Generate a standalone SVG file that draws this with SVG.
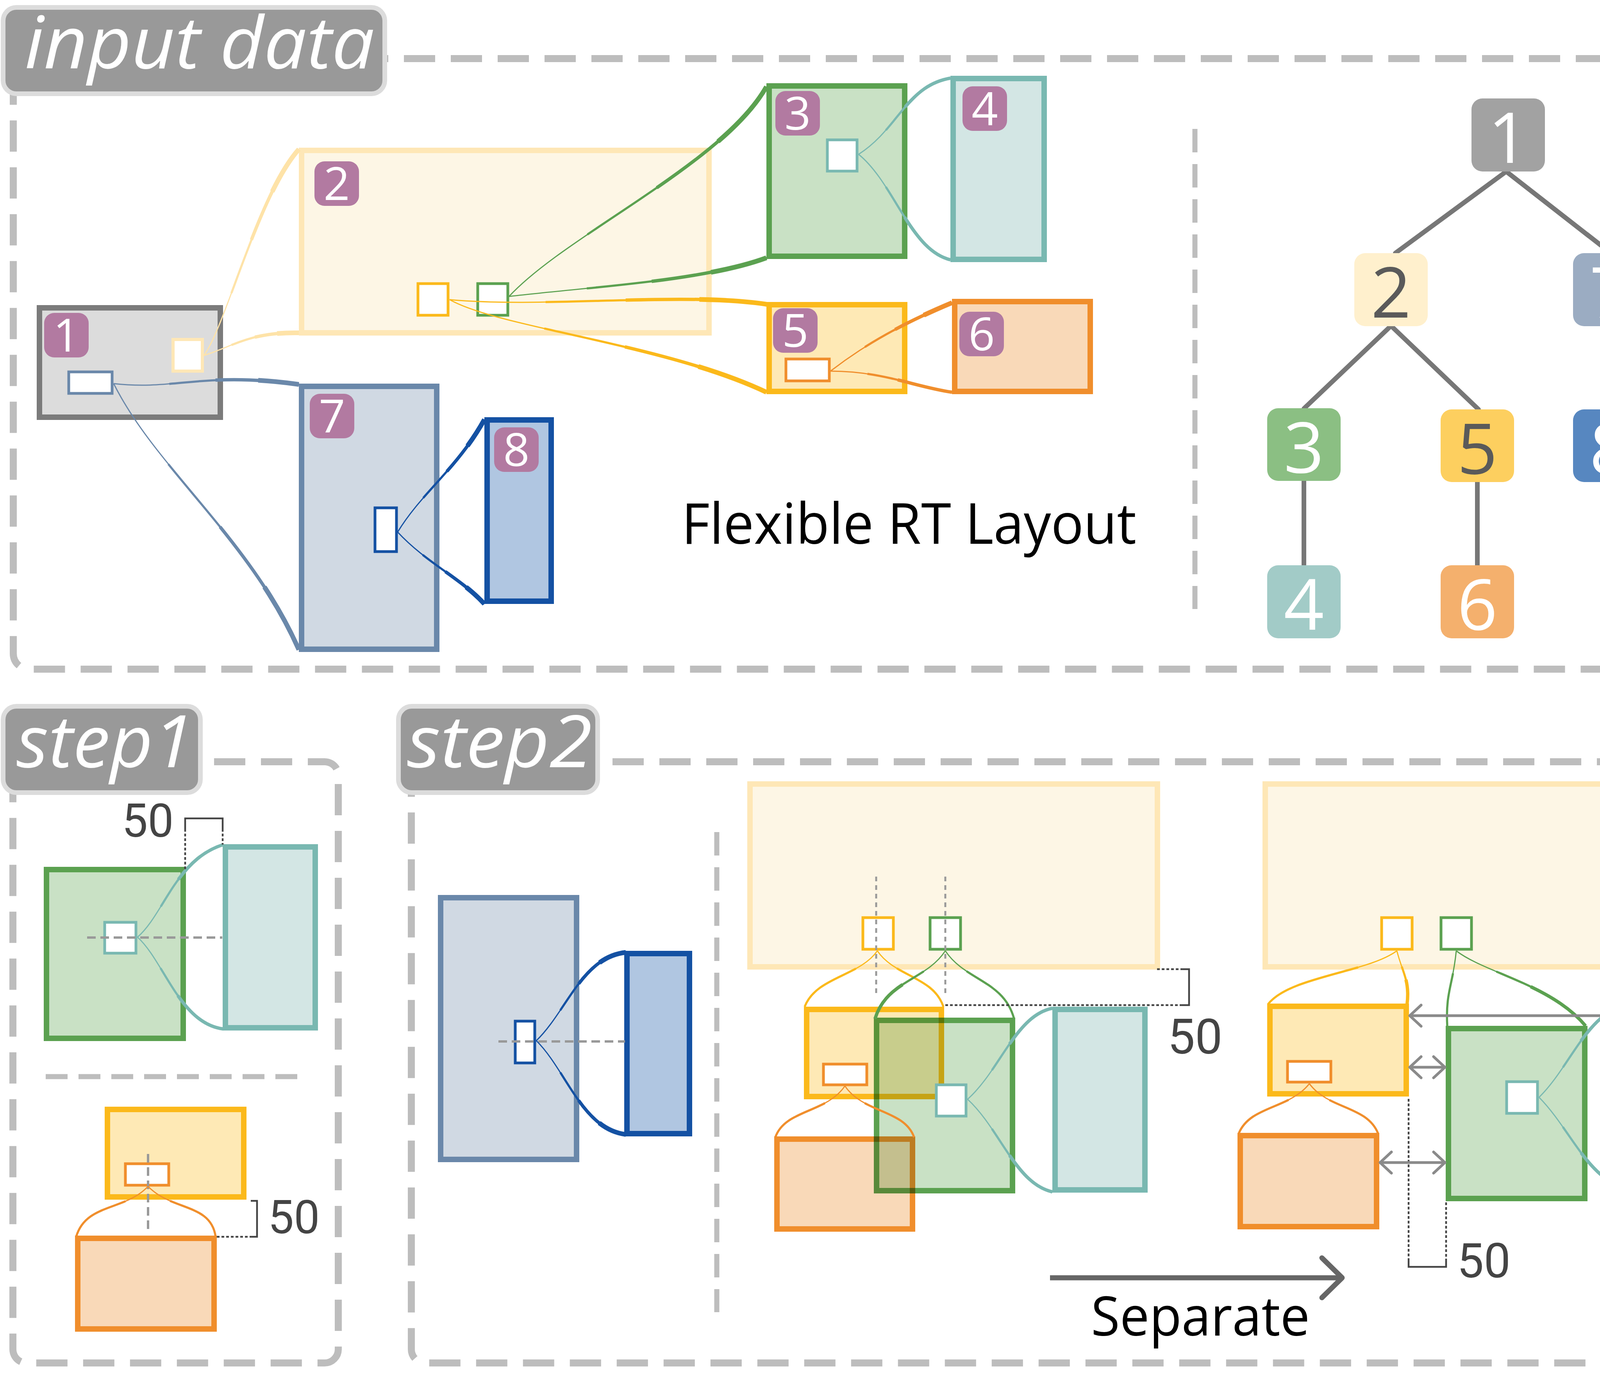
<svg xmlns="http://www.w3.org/2000/svg" xmlns:xlink="http://www.w3.org/1999/xlink" width="4532" height="3548" viewBox="0 0 4532 3548">
<style>
.frame{fill:none;stroke:#bdbdbd;stroke-width:18;stroke-dasharray:80 40}
.sep{fill:none;stroke:#bdbdbd;stroke-width:13;stroke-dasharray:60 30}
.lbl rect{fill:#999;stroke:#dcdcdc;stroke-width:12}
.lbl text{font-family:"Open Sans","DejaVu Sans",sans-serif;font-style:italic;font-size:185px;fill:#fff}
.box{stroke-width:14}
.gray{fill:#dcdcdc;stroke:#7b7b7b}
.ly{fill:#fdf6e5;stroke:#fee7b6}
.bg{fill:#d0d9e3;stroke:#6a88aa}
.db{fill:#b0c6e1;stroke:#1451a3}
.gr{fill:#c9e1c5;stroke:#5ba150}
.tl{fill:#d3e6e4;stroke:#79b8b1}
.yl{fill:#fee9b5;stroke:#fbb91b}
.or{fill:#f9d9b8;stroke:#f08e2c}
rect.port{fill:#fff;stroke-width:7}
.mul{mix-blend-mode:multiply}
.badge rect{fill:#b27aa1}
.badge text{font-family:"Open Sans","DejaVu Sans",sans-serif;font-size:118px;fill:#fff;text-anchor:middle}
.tree rect{stroke:none}
.tree text{font-family:"Open Sans","DejaVu Sans",sans-serif;font-size:180px;text-anchor:middle;fill:#fff}
.tedge{stroke:#777;stroke-width:12;stroke-linecap:round;fill:none}
.k{fill:none}
.w1{stroke-width:3}
.w2{stroke-width:5.5;stroke-dasharray:0 30 70 200}
.w3{stroke-width:8.5;stroke-dasharray:0 55 45 200}
.w4{stroke-width:12;stroke-dasharray:0 78 22 200}
.c-ly{stroke:#fee3a8}
.c-bg{stroke:#6a88aa}
.c-db{stroke:#1451a3}
.c-gr{stroke:#5ba150}
.c-tl{stroke:#79b8b1}
.c-yl{stroke:#fbb91b}
.c-or{stroke:#f08e2c}
.guide{fill:none;stroke:#999;stroke-width:6;stroke-dasharray:22 12}
.gdot{fill:none;stroke:#999;stroke-width:5;stroke-dasharray:12 10}
.dim{fill:none;stroke:#444;stroke-width:4.5}
.dimdot{fill:none;stroke:#444;stroke-width:4.5;stroke-dasharray:7 5}
.num{font-family:Roboto,"Liberation Sans",sans-serif;fill:#444}
.dbl{fill:none;stroke:#8a8a8a;stroke-width:7}
.title{font-family:"Open Sans","DejaVu Sans",sans-serif;fill:#000}
</style>
<defs>
<marker id="chev" viewBox="-40 -40 50 80" refX="0" refY="0" markerWidth="50" markerHeight="80" markerUnits="userSpaceOnUse" orient="auto-start-reverse">
<path d="M-29,-27 L0,0 L-29,27" fill="none" stroke="#8a8a8a" stroke-width="7" stroke-linecap="round" stroke-linejoin="round"/>
</marker>
<marker id="bigchev" viewBox="-70 -70 80 140" refX="0" refY="0" markerWidth="80" markerHeight="140" markerUnits="userSpaceOnUse" orient="auto">
<path d="M-52,-51 L0,0 L-52,51" fill="none" stroke="#666" stroke-width="13" stroke-linecap="round" stroke-linejoin="round"/>
</marker>
<path id="k1" pathLength="100" d="M522,910 C580,830 660,500 765,382"/>
<path id="k2" pathLength="100" d="M522,910 C600,885 640,850 765,852"/>
<path id="k3" pathLength="100" d="M291,982 C450,1000 520,950 765,984"/>
<path id="k4" pathLength="100" d="M291,982 C400,1200 640,1380 765,1663"/>
<path id="k5" pathLength="100" d="M1303,759 C1450,600 1850,420 1962,222"/>
<path id="k6" pathLength="100" d="M1303,759 C1500,735 1800,720 1962,660"/>
<path id="k7" pathLength="100" d="M1151,767 C1400,790 1750,745 1970,780"/>
<path id="k8" pathLength="100" d="M1151,767 C1280,840 1700,880 1962,1004"/>
<path id="k9" pathLength="100" d="M2198,395 C2300,330 2320,220 2433,200"/>
<path id="k10" pathLength="100" d="M2198,395 C2290,470 2330,640 2433,665"/>
<path id="k11" pathLength="100" d="M2126,950 C2230,870 2330,820 2437,775"/>
<path id="k12" pathLength="100" d="M2126,950 C2260,950 2340,990 2437,1004"/>
<path id="k13" pathLength="100" d="M1018,1362 C1080,1260 1170,1200 1240,1074"/>
<path id="k14" pathLength="100" d="M1018,1362 C1090,1440 1180,1480 1240,1546"/>
<path id="k15" pathLength="100" d="M352,2399 C420,2340 450,2200 572,2162"/>
<path id="k16" pathLength="100" d="M352,2399 C420,2460 460,2620 572,2634"/>
<path id="k17" pathLength="100" d="M379,3037 C320,3100 220,3080 195,3166"/>
<path id="k18" pathLength="100" d="M379,3037 C440,3100 540,3080 552,3166"/>
<path id="k19" pathLength="100" d="M1373,2664 C1450,2590 1490,2450 1602,2438"/>
<path id="k20" pathLength="100" d="M1373,2664 C1450,2740 1490,2890 1602,2904"/>
<path id="k21" pathLength="100" d="M2246,2434 C2200,2500 2090,2500 2060,2577"/>
<path id="k22" pathLength="100" d="M2246,2434 C2290,2500 2390,2500 2415,2577"/>
<path id="k23" pathLength="100" d="M2420,2434 C2370,2510 2270,2510 2240,2608"/>
<path id="k24" pathLength="100" d="M2420,2434 C2470,2510 2570,2510 2596,2608"/>
<path id="k25" pathLength="100" d="M2163,2780 C2115,2850 2010,2840 1985,2911"/>
<path id="k26" pathLength="100" d="M2163,2780 C2210,2850 2315,2840 2340,2911"/>
<path id="k27" pathLength="100" d="M2477,2814 C2560,2740 2600,2600 2694,2581"/>
<path id="k28" pathLength="100" d="M2477,2814 C2560,2890 2600,3030 2694,3051"/>
<path id="k29" pathLength="100" d="M3576,2434 C3500,2490 3300,2500 3246,2571"/>
<path id="k30" pathLength="100" d="M3576,2434 C3590,2490 3610,2510 3602,2571"/>
<path id="k31" pathLength="100" d="M3728,2434 C3720,2520 3700,2540 3705,2626"/>
<path id="k32" pathLength="100" d="M3728,2434 C3800,2490 3970,2520 4059,2626"/>
<path id="k33" pathLength="100" d="M3352,2774 C3300,2840 3200,2830 3171,2902"/>
<path id="k34" pathLength="100" d="M3352,2774 C3400,2840 3500,2830 3528,2902"/>
<path id="k35" pathLength="100" d="M3940,2809 C4020,2730 4060,2600 4159,2573"/>
<path id="k36" pathLength="100" d="M3940,2809 C4020,2890 4060,3010 4159,3042"/>
</defs>
<rect width="4532" height="3548" fill="#fff"/>

<g id="frames">
<rect class="frame" x="34" y="150" width="4422" height="1563" rx="40"/>
<rect class="frame" x="33" y="1950" width="833" height="1539" rx="35"/>
<rect class="frame" x="1053" y="1950" width="3406" height="1539" rx="35"/>
<path class="sep" d="M3059,330 V1559"/>
<path class="sep" d="M1835,2130 V3359"/>
<path class="sep" d="M117,2756 H789" style="stroke-dasharray:56 28"/>
</g>

<g id="label-input" class="lbl"><rect x="8" y="19" width="977" height="221" rx="34"/><text x="63" y="175" textLength="896" lengthAdjust="spacingAndGlyphs">input data</text></g>
<g id="label-step1" class="lbl"><rect x="8" y="1808" width="505" height="221" rx="34"/><text x="42" y="1964" textLength="454" lengthAdjust="spacingAndGlyphs">step1</text></g>
<g id="label-step2" class="lbl"><rect x="1020" y="1808" width="510" height="221" rx="34"/><text x="1042" y="1964" textLength="474" lengthAdjust="spacingAndGlyphs">step2</text></g>

<g id="node-1"><rect class="box gray" x="101" y="788" width="463" height="280"/>
<rect class="port" x="443" y="869" width="75" height="81" stroke="#fee7b6" style="stroke-width:8"/>
<rect class="port" x="176" y="952" width="111" height="55" stroke="#6a88aa"/>
<g class="badge"><rect x="113" y="801" width="114" height="114" rx="26"/><text x="170" y="900">1</text></g></g>
<g id="node-2"><rect class="box ly" x="772" y="385" width="1043" height="467"/>
<rect class="port" x="1070" y="726" width="77" height="81" stroke="#fbb91b"/>
<rect class="port" x="1223" y="726" width="77" height="81" stroke="#5ba150"/>
<g class="badge"><rect x="805" y="413" width="114" height="114" rx="26"/><text x="862" y="512">2</text></g></g>
<g id="node-3"><rect class="box gr" x="1969" y="220" width="347" height="436"/>
<rect class="port" x="2118" y="358" width="76" height="80" stroke="#79b8b1"/>
<g class="badge"><rect x="1985" y="233" width="114" height="114" rx="26"/><text x="2042" y="332">3</text></g></g>
<g id="node-4"><rect class="box tl" x="2440" y="201" width="233" height="463"/>
<g class="badge"><rect x="2464" y="221" width="114" height="114" rx="26"/><text x="2521" y="320">4</text></g></g>
<g id="node-5"><rect class="box yl" x="1969" y="780" width="347" height="222"/>
<rect class="port" x="2012" y="919" width="111" height="56" stroke="#f08e2c"/>
<g class="badge"><rect x="1979" y="789" width="114" height="114" rx="26"/><text x="2036" y="888">5</text></g></g>
<g id="node-6"><rect class="box or" x="2444" y="772" width="347" height="230"/>
<g class="badge"><rect x="2456" y="798" width="114" height="114" rx="26"/><text x="2513" y="897">6</text></g></g>
<g id="node-7"><rect class="box bg" x="772" y="989" width="346" height="673"/>
<rect class="port" x="960" y="1300" width="55" height="112" stroke="#1451a3"/>
<g class="badge"><rect x="793" y="1008" width="114" height="114" rx="26"/><text x="850" y="1107">7</text></g></g>
<g id="node-8"><rect class="box db" x="1247" y="1075" width="164" height="464"/>
<g class="badge"><rect x="1265" y="1094" width="114" height="114" rx="26"/><text x="1322" y="1193">8</text></g></g>
<text id="layout-title" class="title" x="1745" y="1392" font-size="145" textLength="1164" lengthAdjust="spacingAndGlyphs">Flexible RT Layout</text>

<g id="tree-edges">
<path class="tedge" d="M3856,439 L3572,648"/>
<path class="tedge" d="M3856,439 L4124,648"/>
<path class="tedge" d="M3561,834 L3338,1046"/>
<path class="tedge" d="M3561,834 L3785,1048"/>
<path class="tedge" d="M3338,1230 V1447"/>
<path class="tedge" d="M3782,1234 V1447"/>
<path class="tedge" d="M4122,834 V1048"/>
</g>
<g class="tree">
<g id="tree-1"><rect x="3767" y="252" width="188" height="187" rx="28" fill="#a2a2a2"/><text x="3861" y="417">1</text></g>
<g id="tree-2"><rect x="3467" y="648" width="188" height="187" rx="28" fill="#fff0cd"/><text x="3561" y="813" style="fill:#5a5a5a">2</text></g>
<g id="tree-7"><rect x="4027" y="648" width="188" height="187" rx="28" fill="#9bacc2"/><text x="4121" y="813">7</text></g>
<g id="tree-3"><rect x="3244" y="1045" width="188" height="186" rx="28" fill="#8bbf83"/><text x="3338" y="1210">3</text></g>
<g id="tree-5"><rect x="3688" y="1048" width="188" height="186" rx="28" fill="#fdcf5f"/><text x="3782" y="1213" style="fill:#5a5a5a">5</text></g>
<g id="tree-8"><rect x="4027" y="1048" width="188" height="186" rx="28" fill="#5787c0"/><text x="4121" y="1213">8</text></g>
<g id="tree-4"><rect x="3244" y="1447" width="188" height="187" rx="28" fill="#a2cbc7"/><text x="3338" y="1612">4</text></g>
<g id="tree-6"><rect x="3688" y="1447" width="188" height="187" rx="28" fill="#f4b06d"/><text x="3782" y="1612">6</text></g>
</g>

<g id="s1-node-3"><rect class="box gr" x="119" y="2226" width="350" height="432"/>
<rect class="port" x="268" y="2361" width="80" height="79" stroke="#79b8b1"/></g>
<g id="s1-node-4"><rect class="box tl" x="577" y="2168" width="230" height="463"/></g>
<g id="s1-node-5"><rect class="box yl" x="275" y="2840" width="349" height="224"/>
<rect class="port" x="321" y="2979" width="111" height="55" stroke="#f08e2c"/></g>
<g id="s1-node-6"><rect class="box or" x="199" y="3170" width="349" height="232"/></g>

<g id="s2-node-7"><rect class="box bg" x="1128" y="2298" width="348" height="670"/>
<rect class="port" x="1319" y="2614" width="50" height="107" stroke="#1451a3"/></g>
<g id="s2-node-8"><rect class="box db" x="1605" y="2441" width="160" height="461"/></g>

<g id="s2a-node-2"><rect class="box ly" x="1920" y="2007" width="1043" height="468"/>
<rect class="port" x="2209" y="2349" width="78" height="81" stroke="#fbb91b"/>
<rect class="port" x="2381" y="2349" width="78" height="81" stroke="#5ba150"/></g>
<g id="s2a-node-5"><rect class="box yl" x="2065" y="2584" width="345" height="223"/>
<rect class="port" x="2108" y="2724" width="111" height="53" stroke="#f08e2c"/></g>
<g id="s2a-node-6"><rect class="box or" x="1989" y="2916" width="347" height="230"/></g>
<g id="s2a-node-3"><rect class="box gr mul" x="2244" y="2612" width="348" height="436"/>
<rect class="port" x="2397" y="2777" width="76" height="80" stroke="#79b8b1"/></g>
<g id="s2a-node-4"><rect class="box tl" x="2701" y="2584" width="230" height="462"/></g>

<g id="s2b-node-2"><rect class="box ly" x="3239" y="2007" width="1046" height="468"/>
<rect class="port" x="3537" y="2349" width="78" height="81" stroke="#fbb91b"/>
<rect class="port" x="3689" y="2349" width="78" height="81" stroke="#5ba150"/></g>
<g id="s2b-node-5"><rect class="box yl" x="3251" y="2576" width="349" height="224"/>
<rect class="port" x="3296" y="2717" width="111" height="53" stroke="#f08e2c"/></g>
<g id="s2b-node-6"><rect class="box or" x="3175" y="2907" width="349" height="233"/></g>
<g id="s2b-node-3"><rect class="box gr" x="3708" y="2633" width="349" height="435"/>
<rect class="port" x="3857" y="2769" width="79" height="81" stroke="#79b8b1"/></g>
<g id="s2b-node-4"><rect class="box tl" x="4164" y="2576" width="232" height="463"/></g>

<g id="guides">
<path class="guide" d="M223,2400 H569"/>
<path class="guide" d="M379,2954 V3154"/>
<path class="guide" d="M1276,2666 H1600"/>
<path class="gdot" d="M2243,2244 V2546"/>
<path class="gdot" d="M2420,2244 V2546"/>
</g>

<g id="connectors">
<g class="k c-ly"><use href="#k1" class="w1"/><use href="#k1" class="w2"/><use href="#k1" class="w3"/><use href="#k1" class="w4"/><use href="#k2" class="w1"/><use href="#k2" class="w2"/><use href="#k2" class="w3"/><use href="#k2" class="w4"/></g>
<g class="k c-bg"><use href="#k3" class="w1"/><use href="#k3" class="w2"/><use href="#k3" class="w3"/><use href="#k3" class="w4"/><use href="#k4" class="w1"/><use href="#k4" class="w2"/><use href="#k4" class="w3"/><use href="#k4" class="w4"/></g>
<g class="k c-gr"><use href="#k5" class="w1"/><use href="#k5" class="w2"/><use href="#k5" class="w3"/><use href="#k5" class="w4"/><use href="#k6" class="w1"/><use href="#k6" class="w2"/><use href="#k6" class="w3"/><use href="#k6" class="w4"/></g>
<g class="k c-yl"><use href="#k7" class="w1"/><use href="#k7" class="w2"/><use href="#k7" class="w3"/><use href="#k7" class="w4"/><use href="#k8" class="w1"/><use href="#k8" class="w2"/><use href="#k8" class="w3"/><use href="#k8" class="w4"/></g>
<g class="k c-tl"><use href="#k9" class="w1"/><use href="#k9" class="w2"/><use href="#k9" class="w3"/><use href="#k10" class="w1"/><use href="#k10" class="w2"/><use href="#k10" class="w3"/></g>
<g class="k c-or"><use href="#k11" class="w1"/><use href="#k11" class="w2"/><use href="#k11" class="w3"/><use href="#k11" class="w4"/><use href="#k12" class="w1"/><use href="#k12" class="w2"/><use href="#k12" class="w3"/></g>
<g class="k c-db"><use href="#k13" class="w1"/><use href="#k13" class="w2"/><use href="#k13" class="w3"/><use href="#k13" class="w4"/><use href="#k14" class="w1"/><use href="#k14" class="w2"/><use href="#k14" class="w3"/><use href="#k14" class="w4"/></g>
<g class="k c-tl"><use href="#k15" class="w1"/><use href="#k15" class="w2"/><use href="#k15" class="w3"/><use href="#k16" class="w1"/><use href="#k16" class="w2"/><use href="#k16" class="w3"/></g>
<g class="k c-or"><use href="#k17" class="w1"/><use href="#k17" class="w2"/><use href="#k18" class="w1"/><use href="#k18" class="w2"/></g>
<g class="k c-db"><use href="#k19" class="w1"/><use href="#k19" class="w2"/><use href="#k19" class="w3"/><use href="#k19" class="w4"/><use href="#k20" class="w1"/><use href="#k20" class="w2"/><use href="#k20" class="w3"/><use href="#k20" class="w4"/></g>
<g class="k c-yl"><use href="#k21" class="w1"/><use href="#k21" class="w2"/><use href="#k22" class="w1"/><use href="#k22" class="w2"/></g>
<g class="k c-gr"><use href="#k23" class="w1"/><use href="#k23" class="w2"/><use href="#k23" class="w3"/><use href="#k24" class="w1"/><use href="#k24" class="w2"/></g>
<g class="k c-or"><use href="#k25" class="w1"/><use href="#k25" class="w2"/><use href="#k26" class="w1"/><use href="#k26" class="w2"/></g>
<g class="k c-tl"><use href="#k27" class="w1"/><use href="#k27" class="w2"/><use href="#k27" class="w3"/><use href="#k28" class="w1"/><use href="#k28" class="w2"/><use href="#k28" class="w3"/></g>
<g class="k c-yl"><use href="#k29" class="w1"/><use href="#k29" class="w2"/><use href="#k30" class="w1"/><use href="#k30" class="w2"/><use href="#k30" class="w3"/></g>
<g class="k c-gr"><use href="#k31" class="w1"/><use href="#k31" class="w2"/><use href="#k32" class="w1"/><use href="#k32" class="w2"/><use href="#k32" class="w3"/></g>
<g class="k c-or"><use href="#k33" class="w1"/><use href="#k33" class="w2"/><use href="#k34" class="w1"/><use href="#k34" class="w2"/></g>
<g class="k c-tl"><use href="#k35" class="w1"/><use href="#k35" class="w2"/><use href="#k35" class="w3"/><use href="#k36" class="w1"/><use href="#k36" class="w2"/><use href="#k36" class="w3"/></g>
</g>

<g id="dimensions">
<path class="dim" d="M474,2122 V2095 H570 V2122"/>
<path class="dimdot" d="M474,2122 V2229 M570,2122 V2162"/>
<text class="num" x="312" y="2142" font-size="118">50</text>
<path class="dim" d="M642,3074 H658 V3166 H644"/>
<path class="dimdot" d="M555,3166 H644"/>
<text class="num" x="686" y="3157" font-size="118">50</text>
<path class="dim" d="M3024,2481 H3044 V2573 H3024"/>
<path class="dimdot" d="M2962,2481 H3024 M2420,2573 H3024"/>
<text class="num" x="2989" y="2697" font-size="125">50</text>
<path class="dimdot" d="M3606,2813 V3224 M3702,3078 V3224"/>
<path class="dim" d="M3606,3224 V3243 H3702 V3224"/>
<text class="num" x="3730" y="3270" font-size="122">50</text>
</g>

<g id="separation-arrows">
<path class="dbl" d="M3609,2600 H4155" marker-start="url(#chev)" marker-end="url(#chev)"/>
<path class="dbl" d="M3609,2732 H3699" marker-start="url(#chev)" marker-end="url(#chev)"/>
<path class="dbl" d="M3533,2976 H3699" marker-start="url(#chev)" marker-end="url(#chev)"/>
</g>

<g id="separate">
<path d="M2688,3271 H3436" fill="none" stroke="#666" stroke-width="13" marker-end="url(#bigchev)"/>
<text class="title" x="2793" y="3419" font-size="140" textLength="560" lengthAdjust="spacingAndGlyphs">Separate</text>
</g>
</svg>
